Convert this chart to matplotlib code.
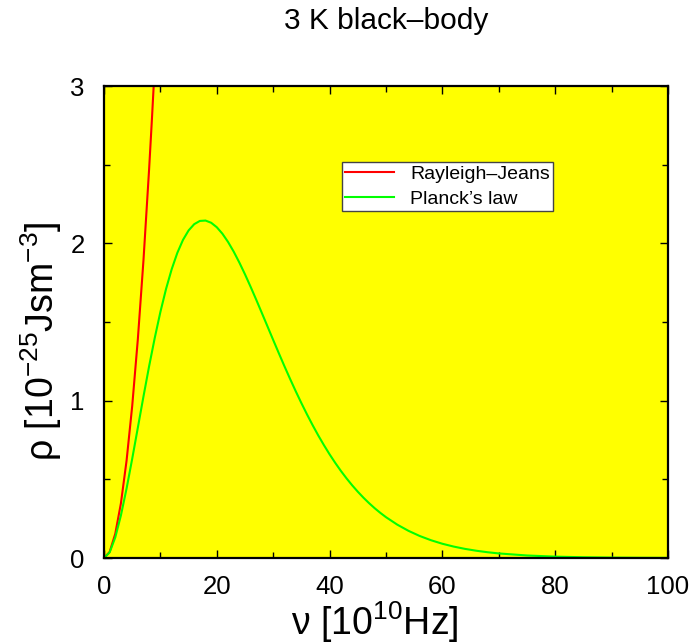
import matplotlib
matplotlib.use("Agg")
import matplotlib.pyplot as plt
from matplotlib.ticker import MultipleLocator

plt.rcParams["font.family"] = ["Liberation Sans", "DejaVu Sans"]
plt.rcParams["mathtext.default"] = "regular"

# frequency in 1e10 Hz, energy density in 1e-25 J s m^-3
nu_rj = [0, 1, 2, 3, 4, 5, 6, 7, 8, 8.5, 9, 10]
rho_rj = [0, 0.0386, 0.1545, 0.3477, 0.6182, 0.9659, 1.3909, 1.8931, 2.4727, 2.7914, 3.1295, 3.8635]

nu_pl = [0, 1, 2, 3, 4, 5, 6, 7, 8, 9, 10, 11, 12, 13, 14, 15, 16, 17, 18, 19,
         20, 21, 22, 23, 24, 25, 26, 27, 28, 29, 30, 31, 32, 33, 34, 35, 36, 37,
         38, 39, 40, 41, 42, 43, 44, 45, 46, 47, 48, 49, 50, 52, 54, 56, 58, 60,
         62, 64, 66, 68, 70, 75, 80, 85, 90, 95, 100]
rho_pl = [0, 0.0356, 0.1311, 0.2709, 0.4414, 0.6305, 0.8285, 1.0270, 1.2191,
          1.3992, 1.5641, 1.7100, 1.8353, 1.9393, 2.0215, 2.0820, 2.1220, 2.1424,
          2.1448, 2.1308, 2.1023, 2.0609, 2.0085, 1.9470, 1.8778, 1.8029, 1.7233,
          1.6409, 1.5563, 1.4711, 1.3857, 1.3014, 1.2184, 1.1378, 1.0596, 0.9844,
          0.9123, 0.8437, 0.7784, 0.7170, 0.6589, 0.6046, 0.5536, 0.5063, 0.4621,
          0.4213, 0.3834, 0.3485, 0.3162, 0.2867, 0.2595, 0.2120, 0.1724, 0.1396,
          0.1127, 0.0905, 0.0726, 0.0580, 0.0462, 0.0367, 0.0290, 0.0160, 0.0087,
          0.0047, 0.0025, 0.0013, 0.0007]

fig = plt.figure(figsize=(6.95, 6.44), dpi=100)
ax = fig.add_axes([104 / 695, 1 - 558 / 644, 564 / 695, 472 / 644])
ax.set_facecolor("#ffff00")

ax.plot(nu_rj, rho_rj, color="#ff0000", lw=1.5, label="Rayleigh\u2013Jeans")
ax.plot(nu_pl, rho_pl, color="#00ff00", lw=1.5, label="Planck\u2019s law")

ax.set_xlim(0, 100)
ax.set_ylim(0, 3)
ax.xaxis.set_major_locator(MultipleLocator(20))
ax.xaxis.set_minor_locator(MultipleLocator(10))
ax.yaxis.set_major_locator(MultipleLocator(1))
ax.yaxis.set_minor_locator(MultipleLocator(0.5))
ax.tick_params(which="both", direction="in", top=True, right=True, width=1)
ax.tick_params(which="major", length=6)
ax.tick_params(which="minor", length=4)
ax.tick_params(axis="x", labelsize=18.5, pad=12)
ax.tick_params(axis="y", labelsize=18.5, pad=14)
for s in ax.spines.values():
    s.set_linewidth(1.6)

ax.set_xlabel("\u03bd [10$^{10}$Hz]", fontsize=27)
ax.set_ylabel("\u03c1 [10$^{-25}$Jsm$^{-3}$]", fontsize=27)
ax.xaxis.set_label_coords(0.48, -0.088)
ax.yaxis.set_label_coords(-0.071, 0.46)
fig.text(386 / 695, 1 - 21 / 644, "3 K black\u2013body", fontsize=21.5,
         ha="center", va="center")

leg = ax.legend(loc="upper left", bbox_to_anchor=(0.422, 0.839), borderaxespad=0,
                fontsize=14, fancybox=False, framealpha=1, edgecolor="#444444",
                handlelength=2.5, borderpad=0.15, labelspacing=0.4, handletextpad=0.85)
leg.get_frame().set_linewidth(1)

fig.savefig("out.png", dpi=100)
